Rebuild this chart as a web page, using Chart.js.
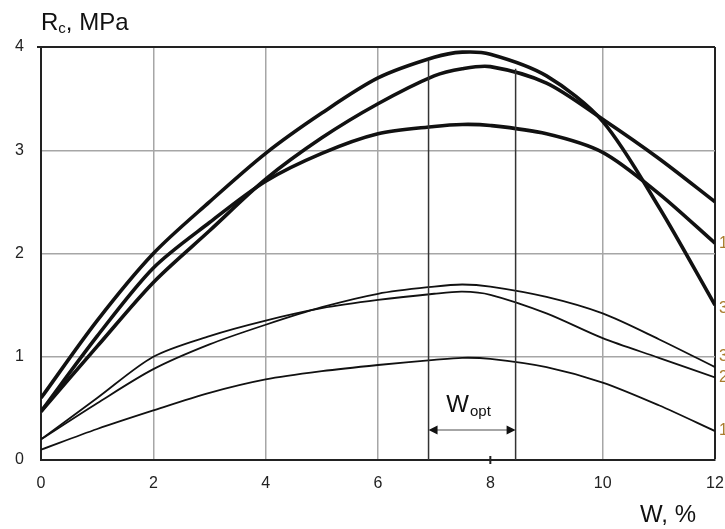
<!DOCTYPE html>
<html>
<head>
<meta charset="utf-8">
<script src="https://cdn.jsdelivr.net/npm/chart.js@4/dist/chart.umd.min.js"></script>
<style>
  html, body { margin: 0; padding: 0; background: #fff; }
  canvas { display: block; }
</style>
</head>
<body>
<canvas id="chartRc" width="725" height="529"></canvas>
<script>
// ===== DATA =====
const wPoints = [0, 1, 2, 3, 4, 5, 6, 7, 7.5, 8, 9, 10, 11, 12];

// heavy curves
const heavy1 = [0.47, 1.2, 1.86, 2.3, 2.7, 2.97, 3.16, 3.23, 3.25, 3.24, 3.16, 2.98, 2.58, 2.1];
const heavy2 = [0.47, 1.1, 1.72, 2.22, 2.72, 3.12, 3.45, 3.72, 3.79, 3.81, 3.65, 3.3, 2.92, 2.5];
const heavy3 = [0.6, 1.35, 2.0, 2.5, 2.97, 3.36, 3.7, 3.9, 3.95, 3.93, 3.72, 3.28, 2.45, 1.5];

// thin curves
const thin1 = [0.1, 0.3, 0.48, 0.65, 0.78, 0.86, 0.92, 0.97, 0.99, 0.98, 0.9, 0.75, 0.53, 0.28];
const thin2 = [0.2, 0.6, 1.0, 1.2, 1.35, 1.47, 1.55, 1.61, 1.63, 1.6, 1.42, 1.18, 0.99, 0.8];
const thin3 = [0.2, 0.55, 0.88, 1.12, 1.31, 1.48, 1.61, 1.68, 1.70, 1.68, 1.58, 1.42, 1.17, 0.9];

// optimum moisture range
const wOptRange = [6.9, 8.45];
const wOptTops = [3.87, 3.79];
const arrowLevel = 0.29;

const xTicks = [0, 2, 4, 6, 8, 10, 12];
const yTicks = [0, 1, 2, 3, 4];

const FONT = '"Liberation Sans", Arial, sans-serif';

function toPoints(values) {
    return values.map((v, i) => ({ x: wPoints[i], y: v }));
}

function curve(values, width, endLabel, labelShift) {
    return {
        data: toPoints(values),
        borderColor: '#111',
        borderWidth: width,
        pointRadius: 0,
        tension: 0.3,
        endLabel: endLabel,
        labelShift: labelShift || 0
    };
}

function optLine(i) {
    return {
        data: [{ x: wOptRange[i], y: 0 }, { x: wOptRange[i], y: wOptTops[i] }],
        borderColor: '#333',
        borderWidth: 1.5,
        pointRadius: 0,
        tension: 0
    };
}

// ===== DECORATIONS =====
const decor = {
    id: 'decor',
    afterDatasetsDraw(chart) {
        const ctx = chart.ctx;
        const x = chart.scales.x, y = chart.scales.y;
        const area = chart.chartArea;

        // Wopt arrow
        const xa = x.getPixelForValue(wOptRange[0]);
        const xb = x.getPixelForValue(wOptRange[1]);
        const ya = y.getPixelForValue(arrowLevel);
        ctx.save();
        ctx.strokeStyle = '#888';
        ctx.lineWidth = 1.5;
        ctx.beginPath();
        ctx.moveTo(xa + 6, ya);
        ctx.lineTo(xb - 6, ya);
        ctx.stroke();
        ctx.fillStyle = '#111';
        ctx.beginPath();
        ctx.moveTo(xa, ya); ctx.lineTo(xa + 9, ya - 4.5); ctx.lineTo(xa + 9, ya + 4.5); ctx.closePath();
        ctx.moveTo(xb, ya); ctx.lineTo(xb - 9, ya - 4.5); ctx.lineTo(xb - 9, ya + 4.5); ctx.closePath();
        ctx.fill();

        // tick mark at W = 8
        const x8 = x.getPixelForValue(8);
        ctx.strokeStyle = '#222';
        ctx.lineWidth = 2;
        ctx.beginPath();
        ctx.moveTo(x8, area.bottom - 4);
        ctx.lineTo(x8, area.bottom + 4);
        ctx.moveTo(area.left - 4, area.top);
        ctx.lineTo(area.left, area.top);
        ctx.stroke();
        ctx.restore();
    },
    afterDraw(chart) {
        const ctx = chart.ctx;
        const x = chart.scales.x, y = chart.scales.y;
        const area = chart.chartArea;
        ctx.save();
        ctx.fillStyle = '#111';
        ctx.textBaseline = 'alphabetic';

        // y axis title: Rc, MPa
        ctx.font = '24px ' + FONT;
        ctx.textAlign = 'left';
        ctx.fillText('R', 41, 30);
        const rw = ctx.measureText('R').width;
        ctx.font = '15px ' + FONT;
        ctx.fillText('c', 41 + rw, 33);
        const cw = ctx.measureText('c').width;
        ctx.font = '24px ' + FONT;
        ctx.fillText(', MPa', 41 + rw + cw, 30);

        // x axis title
        ctx.textAlign = 'right';
        ctx.fillText('W, %', 696, 522);

        // Wopt label
        const xm = (x.getPixelForValue(wOptRange[0]) + x.getPixelForValue(wOptRange[1])) / 2;
        ctx.textAlign = 'left';
        ctx.font = '24px ' + FONT;
        const ww = ctx.measureText('W').width;
        ctx.font = '15px ' + FONT;
        const ow = ctx.measureText('opt').width;
        const x0 = xm - (ww + ow) / 2 - 4;
        ctx.font = '24px ' + FONT;
        ctx.fillText('W', x0, 412);
        ctx.font = '15px ' + FONT;
        ctx.fillText('opt', x0 + ww + 1, 416);

        // curve numbers at the right edge
        ctx.font = '16px ' + FONT;
        ctx.textBaseline = 'middle';
        ctx.fillStyle = '#a97b2c';
        chart.data.datasets.forEach(ds => {
            if (!ds.endLabel) return;
            const last = ds.data[ds.data.length - 1];
            ctx.fillText(ds.endLabel, area.right + 4, y.getPixelForValue(last.y) + ds.labelShift);
        });
        ctx.restore();
    }
};

// ===== CHART =====
const ctxRc = document.getElementById('chartRc').getContext('2d');
const chartRc = new Chart(ctxRc, {
    type: 'line',
    data: {
        datasets: [
            optLine(0),
            optLine(1),
            curve(thin1, 1.8, '1', 0),
            curve(thin2, 1.8, '2', 0),
            curve(thin3, 1.8, '3', -10),
            curve(heavy1, 3.6, '1', 0),
            curve(heavy2, 3.6, '', 0),
            curve(heavy3, 3.6, '3', 3)
        ]
    },
    options: {
        responsive: false,
        animation: false,
        layout: { padding: { top: 47, right: 10, left: 0, bottom: 0 } },
        plugins: {
            legend: { display: false },
            tooltip: { enabled: false }
        },
        scales: {
            x: {
                type: 'linear',
                min: 0,
                max: 12,
                afterBuildTicks: s => { s.ticks = xTicks.map(v => ({ value: v })); },
                afterFit: s => { s.height = 69; s.paddingLeft = 0; s.paddingRight = 0; },
                ticks: {
                    padding: 14,
                    color: '#222',
                    font: { family: FONT, size: 16 }
                },
                grid: {
                    drawTicks: false,
                    color: c => c.tick.value === 8 ? 'rgba(0,0,0,0)' : (c.tick.value === 12 ? '#222' : '#a6a6a6'),
                    lineWidth: c => c.tick.value === 12 ? 2 : 1.5
                },
                border: { color: '#222', width: 2 }
            },
            y: {
                min: 0,
                max: 4,
                afterBuildTicks: s => { s.ticks = yTicks.map(v => ({ value: v })); },
                afterFit: s => { s.width = 41; s.paddingTop = 0; s.paddingBottom = 0; },
                ticks: {
                    padding: 17,
                    color: '#222',
                    font: { family: FONT, size: 16 }
                },
                grid: {
                    drawTicks: false,
                    color: c => c.tick.value === 4 ? '#222' : '#a6a6a6',
                    lineWidth: c => c.tick.value === 4 ? 2 : 1.5
                },
                border: { color: '#222', width: 2 }
            }
        }
    },
    plugins: [decor]
});
</script>
</body>
</html>
